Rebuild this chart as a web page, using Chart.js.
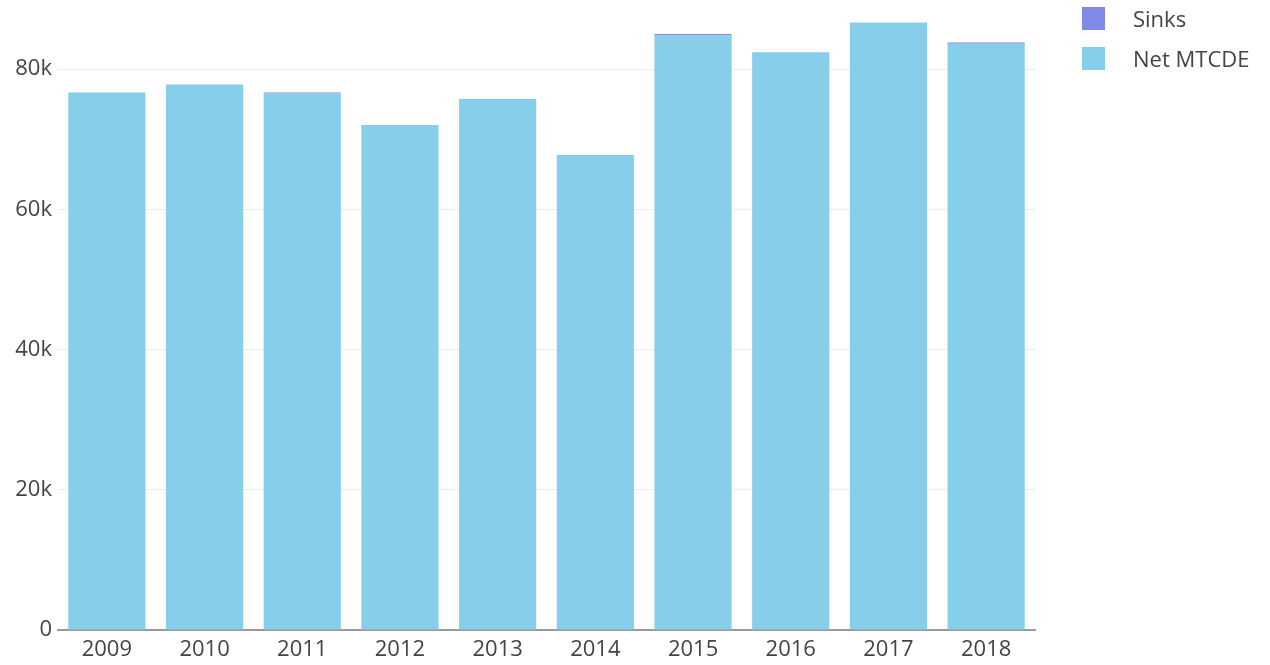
<!DOCTYPE html>
<html>
<head>
<meta charset="utf-8">
<script src="https://cdn.jsdelivr.net/npm/chart.js@4.4.0/dist/chart.umd.min.js"></script>
<style>
  html, body { margin: 0; padding: 0; background: #fff; }
  .wrap { position: relative; width: 1270px; height: 665px; }
  .legend { position: absolute; left: 1082px; top: -1px; font-family: "Open Sans", sans-serif; font-size: 22px; color: #444; }
  .legend .item { display: flex; align-items: center; height: 38px; margin-bottom: 2px; }
  .legend .box { width: 23px; height: 23px; margin-right: 28px; }
</style>
</head>
<body>
<div class="wrap">
  <canvas id="emissionsChart" width="1270" height="665"></canvas>
  <div class="legend" id="legend"></div>
</div>
<script>
// Years on the x axis
const years = ['2009', '2010', '2011', '2012', '2013', '2014', '2015', '2016', '2017', '2018'];

// Net MTCDE per year
const netMtcde = [76680, 77820, 76530, 72020, 75720, 67750, 84800, 82420, 86650, 83620];

// Sinks, a thin sliver stacked on top of a few bars
const sinks = [0, 0, 150, 0, 0, 0, 190, 0, 0, 180];

// Y axis tick values
const yTicks = [0, 20000, 40000, 60000, 80000];

const COLOR_NET = '#87ceeb';
const COLOR_SINKS = '#7f89e6';
const TICK_FONT = { family: 'Open Sans', size: 22 };

const chart = new Chart(document.getElementById('emissionsChart'), {
  type: 'bar',
  data: {
    labels: years,
    datasets: [
      {
        label: 'Net MTCDE',
        data: netMtcde,
        backgroundColor: COLOR_NET,
        borderWidth: 0,
        barPercentage: 0.79,
        categoryPercentage: 1
      },
      {
        label: 'Sinks',
        data: sinks,
        backgroundColor: COLOR_SINKS,
        borderWidth: 0,
        barPercentage: 0.79,
        categoryPercentage: 1
      }
    ]
  },
  options: {
    responsive: false,
    animation: false,
    layout: { padding: { top: 6, right: 235, left: 0, bottom: 0 } },
    plugins: {
      legend: { display: false },
      tooltip: { enabled: false }
    },
    scales: {
      x: {
        stacked: true,
        grid: { display: false, drawTicks: false },
        border: { display: true, color: '#9a9a9a', width: 2 },
        ticks: {
          color: '#444',
          padding: 7,
          font: TICK_FONT
        },
        afterFit: (scale) => { scale.height = 35; }
      },
      y: {
        stacked: true,
        min: 0,
        max: 89000,
        border: { display: false },
        grid: {
          color: (ctx) => ctx.tick && ctx.tick.value === 0 ? 'rgba(0,0,0,0)' : '#ececec',
          lineWidth: 1,
          drawTicks: false
        },
        ticks: {
          color: '#444',
          padding: 6,
          font: TICK_FONT,
          callback: (value) => value === 0 ? '0' : (value / 1000) + 'k'
        },
        afterBuildTicks: (scale) => {
          scale.ticks = yTicks.map(v => ({ value: v }));
        },
        afterFit: (scale) => {
          scale.width = 58;
          scale.paddingTop = 0;
          scale.paddingBottom = 0;
        }
      }
    }
  }
});

// Legend drawn as HTML, Sinks listed first like the original
const legendEl = document.getElementById('legend');
[['Sinks', COLOR_SINKS], ['Net MTCDE', COLOR_NET]].forEach(([name, color]) => {
  const item = document.createElement('div');
  item.className = 'item';
  item.innerHTML = `<span class="box" style="background:${color}"></span><span>${name}</span>`;
  legendEl.appendChild(item);
});
</script>
</body>
</html>
